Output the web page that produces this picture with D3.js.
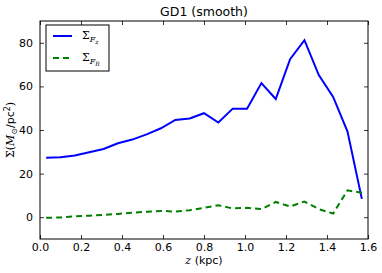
<!DOCTYPE html>
<html>
<head>
<meta charset="utf-8">
<script src="https://cdn.jsdelivr.net/npm/d3@7"></script>
<style>
  body { margin: 0; background: #fff; }
  svg { display: block; font-family: "DejaVu Sans", sans-serif; }
</style>
</head>
<body>
<div id="chart"></div>
<script>
// z bin centres (kpc)
const zValues = [0.03, 0.10, 0.17, 0.24, 0.31, 0.38, 0.45, 0.52, 0.59, 0.66, 0.73, 0.80,
  0.87, 0.94, 1.01, 1.08, 1.15, 1.22, 1.29, 1.36, 1.43, 1.50, 1.57];
const sigmaFz = [27.3, 27.5, 28.3, 29.8, 31.3, 33.9, 35.6, 38.0, 40.8, 44.6, 45.3, 47.7,
  43.4, 49.8, 49.8, 61.5, 54.2, 72.5, 81.2, 65.2, 55.2, 39.3, 8.4];
const sigmaFR = [-0.3, -0.1, 0.4, 0.7, 1.1, 1.5, 2.0, 2.5, 2.9, 2.6, 3.2, 4.3,
  5.5, 4.0, 4.3, 3.7, 7.0, 4.9, 7.2, 3.7, 1.7, 12.3, 11.2];
const xTicks = [0.0, 0.2, 0.4, 0.6, 0.8, 1.0, 1.2, 1.4, 1.6];
const yTicks = [0, 20, 40, 60, 80];

const width = 382, height = 273;
const margin = { top: 21, right: 14, bottom: 34, left: 40 };
const innerW = width - margin.left - margin.right;
const innerH = height - margin.top - margin.bottom;

const svg = d3.select('#chart').append('svg')
  .attr('width', width)
  .attr('height', height);

const x = d3.scaleLinear().domain([0, 1.6]).range([0, innerW]);
const y = d3.scaleLinear().domain([-10, 90]).range([innerH, 0]);

const g = svg.append('g').attr('transform', `translate(${margin.left},${margin.top})`);

// lines
const series = [
  { values: sigmaFz, color: '#0000ff', dash: null },
  { values: sigmaFR, color: '#008000', dash: '6,4' }
];

const line = d3.line().x(d => x(d[0])).y(d => y(d[1]));

series.forEach(s => {
  g.append('path')
    .datum(zValues.map((z, i) => [z, s.values[i]]))
    .attr('fill', 'none')
    .attr('stroke', s.color)
    .attr('stroke-width', 2)
    .attr('stroke-dasharray', s.dash)
    .attr('d', line);
});

// axes with inward ticks on every side
const tickLen = 4;
const styleAxis = sel => {
  sel.select('.domain').remove();
  sel.selectAll('line').attr('stroke', '#000').attr('stroke-width', 0.8);
  sel.selectAll('text').attr('font-size', '11px').attr('fill', '#000')
    .attr('font-family', '"DejaVu Sans", sans-serif');
};

g.append('g')
  .attr('transform', `translate(0,${innerH})`)
  .call(d3.axisBottom(x).tickValues(xTicks).tickFormat(d3.format('.1f'))
    .tickSizeInner(-tickLen).tickSizeOuter(0).tickPadding(4))
  .call(styleAxis);

g.append('g')
  .call(d3.axisTop(x).tickValues(xTicks).tickFormat('')
    .tickSizeInner(-tickLen).tickSizeOuter(0))
  .call(styleAxis);

g.append('g')
  .call(d3.axisLeft(y).tickValues(yTicks)
    .tickSizeInner(-tickLen).tickSizeOuter(0).tickPadding(7))
  .call(styleAxis);

g.append('g')
  .attr('transform', `translate(${innerW},0)`)
  .call(d3.axisRight(y).tickValues(yTicks).tickFormat('')
    .tickSizeInner(-tickLen).tickSizeOuter(0))
  .call(styleAxis);

// frame
g.append('rect')
  .attr('width', innerW).attr('height', innerH)
  .attr('fill', 'none').attr('stroke', '#000').attr('stroke-width', 1);

// title
svg.append('text')
  .attr('x', margin.left + innerW / 2).attr('y', 16)
  .attr('text-anchor', 'middle')
  .attr('font-size', '12.5px')
  .text('GD1 (smooth)');

// x label
const xl = svg.append('text')
  .attr('x', margin.left + innerW / 2).attr('y', 264)
  .attr('text-anchor', 'middle')
  .attr('font-size', '11px');
xl.append('tspan').attr('font-family', '"DejaVu Serif", serif').attr('font-style', 'italic').text('z');
xl.append('tspan').text(' (kpc)');

// y label
const yl = svg.append('text')
  .attr('transform', `translate(14,${margin.top + innerH / 2}) rotate(-90)`)
  .attr('text-anchor', 'middle')
  .attr('font-size', '11px');
yl.append('tspan').attr('font-family', '"DejaVu Serif", serif').text('Σ(');
yl.append('tspan').attr('font-family', '"DejaVu Serif", serif').attr('font-style', 'italic').text('M');
yl.append('tspan').attr('font-size', '8px').attr('dy', 3).text('⊙');
yl.append('tspan').attr('dy', -3).text('/pc');
yl.append('tspan').attr('font-size', '8px').attr('dy', -4).text('2');
yl.append('tspan').attr('dy', 4).attr('font-family', '"DejaVu Serif", serif').text(')');

// legend
const legend = svg.append('g').attr('transform', 'translate(46,25)');
legend.append('rect')
  .attr('width', 63).attr('height', 46)
  .attr('fill', '#fff').attr('stroke', '#000').attr('stroke-width', 1);

const legendLabels = [['Σ', 'F', 'z'], ['Σ', 'F', 'R']];
series.forEach((s, i) => {
  const yy = 11 + i * 22;
  legend.append('line')
    .attr('x1', 7).attr('x2', 26).attr('y1', yy).attr('y2', yy)
    .attr('stroke', s.color).attr('stroke-width', 2)
    .attr('stroke-dasharray', s.dash);
  const t = legend.append('text')
    .attr('x', 36).attr('y', yy + 3)
    .attr('font-family', '"DejaVu Serif", serif')
    .attr('font-size', '11px');
  t.append('tspan').text(legendLabels[i][0]);
  t.append('tspan').attr('font-style', 'italic').attr('font-size', '8px').attr('dy', 3).text(legendLabels[i][1]);
  t.append('tspan').attr('font-style', 'italic').attr('font-size', '6px').attr('dy', 1.5).text(legendLabels[i][2]);
});
</script>
</body>
</html>
